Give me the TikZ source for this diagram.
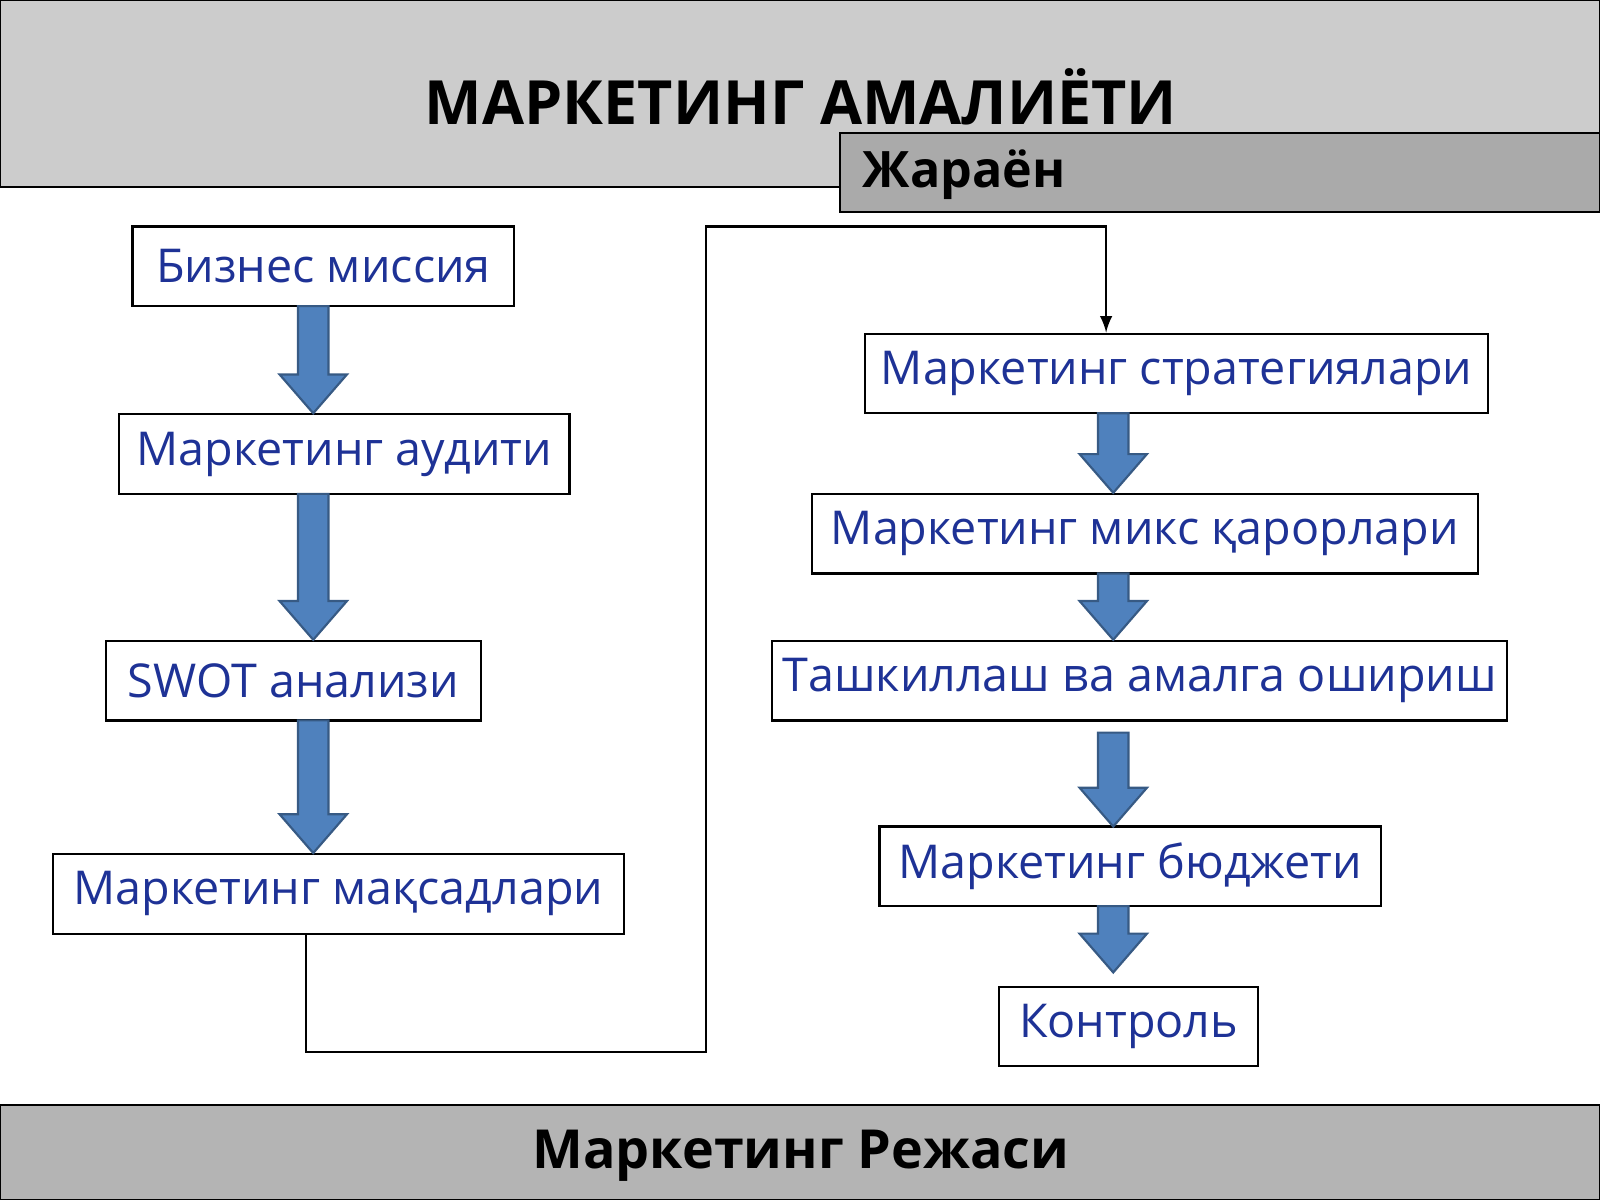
\documentclass[tikz,border=0pt]{standalone}
\usepackage{fontspec}
\setmainfont{Open Sans}
\usetikzlibrary{positioning,calc}
\definecolor{mytext}{RGB}{30,50,150}
\definecolor{myarrow}{RGB}{79,129,189}
\definecolor{mybarlight}{RGB}{204,204,204}
\definecolor{mybardark}{RGB}{170,170,170}
\definecolor{mybarbottom}{RGB}{180,180,180}
\newcommand{\blockarrow}[3]{%
  \draw[myarrow!70!black,fill=myarrow,line width=0.6pt]
    (#1-15,#2) -- (#1+15,#2) -- (#1+15,#3-38) -- (#1+33,#3-38) --
    (#1,#3) -- (#1-33,#3-38) -- (#1-15,#3-38) -- cycle;}
\begin{document}
\begin{tikzpicture}[
  x=0.01cm, y=-0.01cm,
  mybox/.style={
    draw,
    line width=0.6pt,
    fill=white,
    text=mytext,
    font=\fontsize{13}{15}\selectfont,
    minimum height=0.78cm,
    inner sep=0pt
    },
  mybar/.style={
    draw,
    line width=0.6pt
    }
]
\useasboundingbox (0,0) rectangle (1568,1176);

% header and footer
\draw[mybar,fill=mybarlight] (0,0) rectangle (1568,183);
\node (title) at (785,95) {\fontsize{17}{20}\selectfont\bfseries МАРКЕТИНГ АМАЛИЁТИ};
\draw[mybar,fill=mybardark] (823,130) rectangle (1568,208);
\node[anchor=west] (process) at (833,171) {\fontsize{14}{16}\selectfont\bfseries Жараён};
\draw[mybar,fill=mybarbottom] (0,1083) rectangle (1568,1176);
\node (plan) at (785,1133) {\fontsize{15}{18}\selectfont\bfseries Маркетинг Режаси};

% left column
\node[mybox,minimum width=3.74cm] (mission) at (317,261) {Бизнес миссия};
\node[mybox,minimum width=4.41cm] (audit) at (337.5,445) {Маркетинг аудити};
\node[mybox,minimum width=3.67cm] (swot) at (287.5,667) {SWOT анализи};
\node[mybox,minimum width=5.59cm] (goals) at (331.5,876) {Маркетинг мақсадлари};

% right column
\node[mybox,minimum width=6.10cm] (strategy) at (1153,366) {Маркетинг стратегиялари};
\node[mybox,minimum width=6.52cm] (mix) at (1122,523) {Маркетинг микс қарорлари};
\node[mybox,minimum width=7.20cm] (implement) at (1117,667) {Ташкиллаш ва амалга ошириш};
\node[mybox,minimum width=4.91cm] (budget) at (1107.5,849) {Маркетинг бюджети};
\node[mybox,minimum width=2.54cm] (control) at (1106,1006) {Контроль};

% block arrows
\blockarrow{307}{300}{405}
\blockarrow{307}{484}{627}
\blockarrow{307}{706}{836}
\blockarrow{1091}{405}{483}
\blockarrow{1091}{562}{627}
\blockarrow{1091}{718}{810}
\blockarrow{1091}{888}{953}

% link between columns
\coordinate (turn) at (692,222);
\draw[line width=0.6pt,-latex] (goals.south -| 300,0) |- (692,1031) -- (turn) -| (strategy.north -| 1084,0);
\end{tikzpicture}
\end{document}
